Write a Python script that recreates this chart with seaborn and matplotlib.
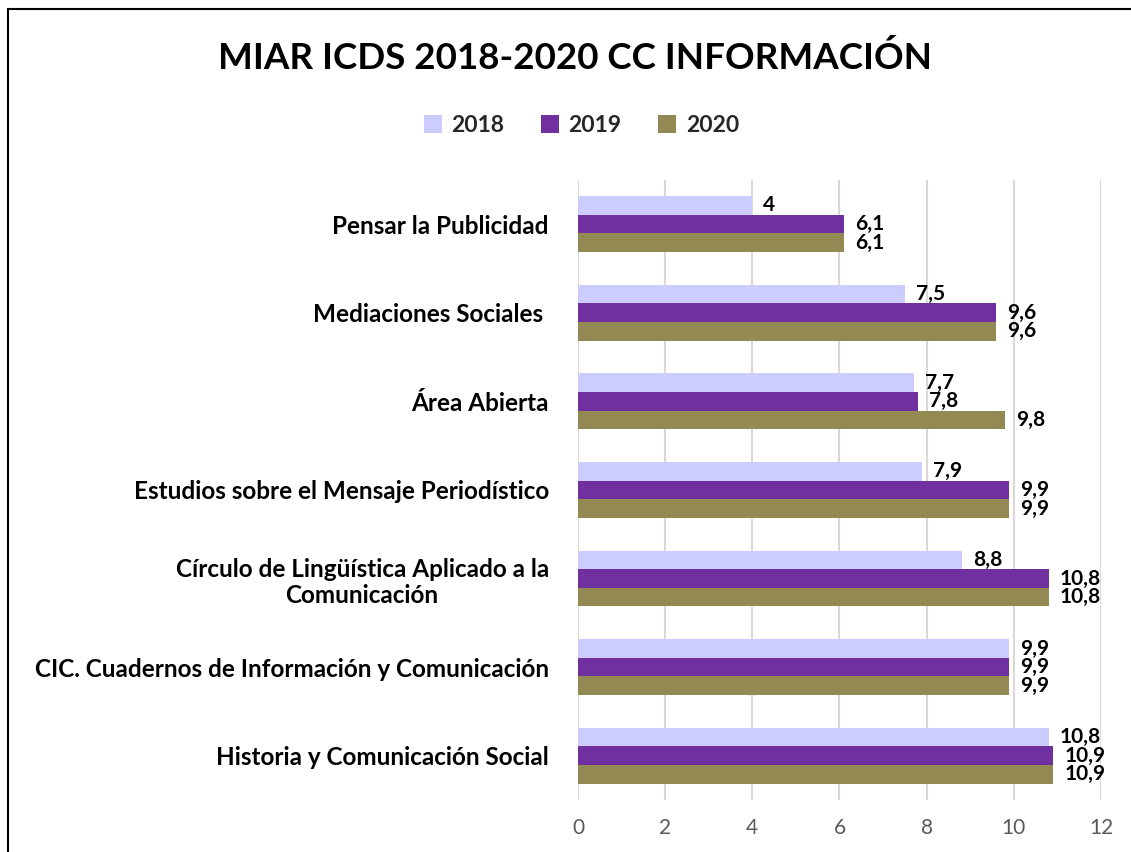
import matplotlib
matplotlib.use("Agg")
import matplotlib.pyplot as plt
import seaborn as sns
import pandas as pd
from matplotlib.patches import Patch
from matplotlib.lines import Line2D

journals = [
    "Pensar la Publicidad",
    "Mediaciones Sociales ",
    "Área Abierta",
    "Estudios sobre el Mensaje Periodístico",
    "Círculo de Lingüística Aplicado a la\nComunicación",
    "CIC. Cuadernos de Información y Comunicación",
    "Historia y Comunicación Social",
]
years = ["2018", "2019", "2020"]
v2018 = [4, 7.5, 7.7, 7.9, 8.8, 9.9, 10.8]
v2019 = [6.1, 9.6, 7.8, 9.9, 10.8, 9.9, 10.9]
v2020 = [6.1, 9.6, 9.8, 9.9, 10.8, 9.9, 10.9]
colors = ["#CCCCFF", "#7030A0", "#938953"]
xticks = [0, 2, 4, 6, 8, 10, 12]

rows = []
for y, vals in zip(years, [v2018, v2019, v2020]):
    for j, v in zip(journals, vals):
        rows.append({"journal": j, "year": y, "value": v})
df = pd.DataFrame(rows)

sns.set_theme(style="white")
plt.rcParams["font.family"] = ["Lato", "DejaVu Sans"]

fig = plt.figure(figsize=(11.31, 8.52), dpi=100)
ax = fig.add_axes([0.511, 0.061, 0.4625, 0.728])

sns.barplot(data=df, y="journal", x="value", hue="year", order=journals,
            hue_order=years, palette=colors, orient="h", width=0.63,
            gap=0, saturation=1, legend=False, ax=ax, edgecolor="none")

for cont in ax.containers:
    labels = [("%g" % b.get_width()).replace(".", ",") for b in cont]
    ax.bar_label(cont, labels=labels, padding=8, fontsize=15,
                 fontweight="bold", color="black")

ax.set_xlim(0, 12)
ax.set_xticks(xticks)
ax.set_xticklabels([str(t) for t in xticks], fontsize=15, color="#595959")
ax.set_xlabel("")
ax.set_ylabel("")
ax.tick_params(axis="y", length=0, pad=21)
ax.tick_params(axis="x", length=0, pad=13)
for lab in ax.get_yticklabels():
    lab.set_fontweight("bold")
    lab.set_fontsize(17.5)
    lab.set_multialignment("center")
    lab.set_color("black")
ax.xaxis.grid(True, color="#D9D9D9", linewidth=1.5)
ax.set_axisbelow(True)
for s in ax.spines.values():
    s.set_visible(False)
ax.set_ylim(6.5, -0.5)

fig.text(0.508, 0.932, "MIAR ICDS 2018-2020 CC INFORMACIÓN", ha="center",
         va="center", fontsize=26.5, fontweight="bold", color="black")

handles = [Patch(facecolor=c, edgecolor="none") for c in colors]
fig.legend(handles, years, loc="center", bbox_to_anchor=(0.514, 0.853),
           ncol=3, frameon=False, prop={"weight": "bold", "size": 16.5},
           handlelength=0.8, handleheight=0.8, handletextpad=0.4,
           columnspacing=1.6)

fig.add_artist(Line2D([0.0075, 0.0075], [0, 0.9895], transform=fig.transFigure,
                      color="black", linewidth=1.5))
fig.add_artist(Line2D([0.0075, 1.0], [0.9895, 0.9895], transform=fig.transFigure,
                      color="black", linewidth=1.5))

fig.savefig("out.png", dpi=100)
